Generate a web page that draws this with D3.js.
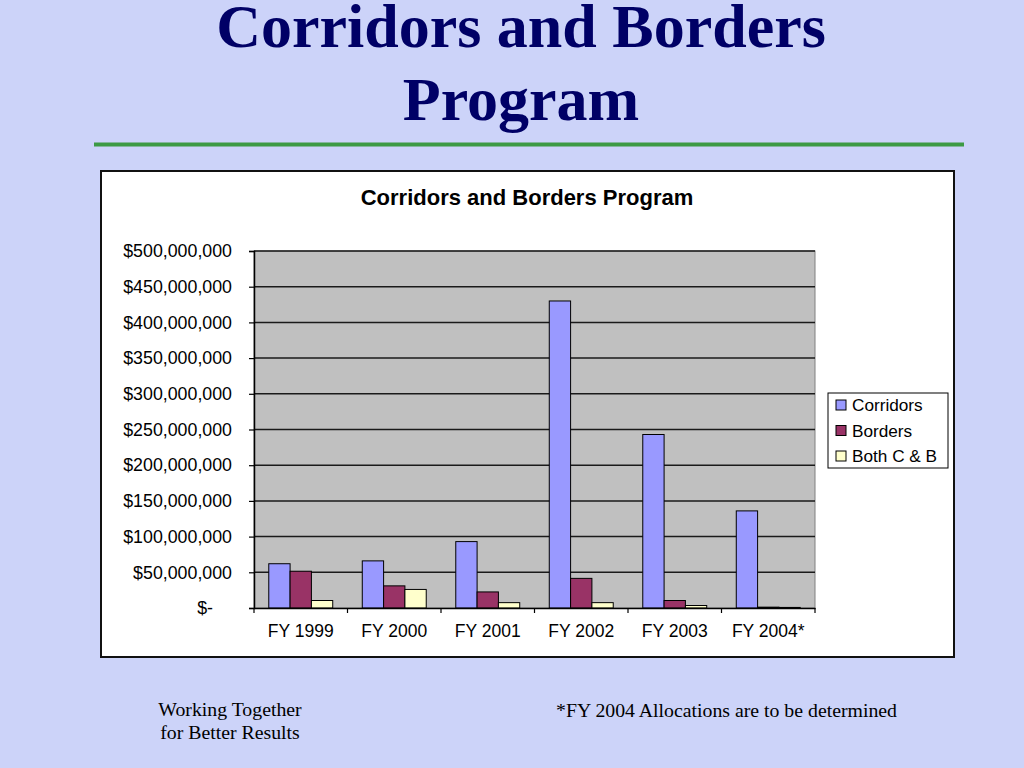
<!DOCTYPE html>
<html>
<head>
<meta charset="utf-8">
<script src="https://cdn.jsdelivr.net/npm/d3@7"></script>
<style>
  html, body { margin: 0; padding: 0; background: #CCD3F9; }
  svg { display: block; }
</style>
</head>
<body>
<svg id="slide" width="1024" height="768"></svg>
<script>
// ---- data ----
const categories = ["FY 1999", "FY 2000", "FY 2001", "FY 2002", "FY 2003", "FY 2004*"];
const seriesNames = ["Corridors", "Borders", "Both C & B"];
const corridors = [62000000, 66000000, 93000000, 430000000, 243000000, 136000000];
const borders = [51500000, 31000000, 22500000, 41500000, 10500000, 1200000];
const bothCB = [10500000, 26000000, 7500000, 7500000, 3500000, 800000];
const yTickValues = [0, 50000000, 100000000, 150000000, 200000000, 250000000, 300000000, 350000000, 400000000, 450000000, 500000000];
const seriesColors = ["#9999FF", "#993366", "#FFFFCC"];
const slideTitle = ["Corridors and Borders", "Program"];
const chartTitle = "Corridors and Borders Program";
const footerLeft = ["Working Together", "for Better Results"];
const footerRight = "*FY 2004 Allocations are to be determined";

const seriesValues = [corridors, borders, bothCB];

const svg = d3.select("#slide");

// background
svg.append("rect").attr("x", 0).attr("y", 0).attr("width", 1024).attr("height", 768).attr("fill", "#CCD3F9");

// slide title
const t = svg.append("text")
  .attr("text-anchor", "middle")
  .attr("font-family", "'Liberation Serif', 'Times New Roman', serif")
  .attr("font-weight", "bold")
  .attr("font-size", 62)
  .attr("fill", "#000066");
slideTitle.forEach((line, i) => {
  t.append("tspan").attr("x", 521).attr("y", 47 + i * 73).text(line);
});

// green rule
svg.append("rect").attr("x", 94).attr("y", 142.5).attr("width", 870).attr("height", 4).attr("fill", "#3C9A44");

// chart box
svg.append("rect").attr("x", 101).attr("y", 171).attr("width", 853).attr("height", 486)
  .attr("fill", "#FFFFFF").attr("stroke", "#111111").attr("stroke-width", 2);

// chart title
svg.append("text")
  .attr("x", 527).attr("y", 205)
  .attr("text-anchor", "middle")
  .attr("font-family", "'Liberation Sans', Arial, sans-serif")
  .attr("font-weight", "bold")
  .attr("font-size", 22)
  .attr("fill", "#000")
  .text(chartTitle);

// plot geometry
const plot = { left: 254, right: 815, top: 251, bottom: 608 };

const y = d3.scaleLinear().domain([0, 500000000]).range([plot.bottom, plot.top]);
const x = d3.scaleBand().domain(categories).range([plot.left, plot.right]).paddingInner(0).paddingOuter(0);
const groupW = x.bandwidth() * 0.684;
const xs = d3.scaleBand().domain(seriesNames).range([0, groupW]).padding(0);

// plot area
svg.append("rect")
  .attr("x", plot.left).attr("y", plot.top)
  .attr("width", plot.right - plot.left).attr("height", plot.bottom - plot.top)
  .attr("fill", "#C0C0C0").attr("stroke", "#808080").attr("stroke-width", 1);

// gridlines
svg.append("g").selectAll("line")
  .data(yTickValues.filter(v => v > 0))
  .join("line")
  .attr("x1", plot.left).attr("x2", plot.right)
  .attr("y1", d => y(d)).attr("y2", d => y(d))
  .attr("stroke", "#1a1a1a").attr("stroke-width", 1.5);

// bars
const rows = categories.map((c, i) => ({ cat: c, vals: seriesNames.map((s, j) => ({ s, j, v: seriesValues[j][i] })) }));
const groups = svg.append("g").selectAll("g")
  .data(rows)
  .join("g")
  .attr("transform", d => `translate(${x(d.cat) + (x.bandwidth() - groupW) / 2},0)`);
groups.selectAll("rect")
  .data(d => d.vals)
  .join("rect")
  .attr("x", d => xs(d.s))
  .attr("width", xs.bandwidth())
  .attr("y", d => y(d.v))
  .attr("height", d => y(0) - y(d.v))
  .attr("fill", d => seriesColors[d.j])
  .attr("stroke", "#000").attr("stroke-width", 1);

// y axis
const fmt = d3.format(",");
const yAxis = d3.axisLeft(y)
  .tickValues(yTickValues)
  .tickSize(5)
  .tickPadding(17)
  .tickFormat(d => d === 0 ? "$-" : "$" + fmt(d));
const yg = svg.append("g").attr("transform", `translate(${plot.left},0)`).call(yAxis);
yg.select(".domain").attr("stroke", "#000").attr("stroke-width", 1.5);
yg.selectAll(".tick line").attr("stroke", "#000").attr("stroke-width", 1.2);
yg.selectAll("text")
  .attr("font-family", "'Liberation Sans', Arial, sans-serif")
  .attr("font-size", 17.8)
  .attr("fill", "#000");
yg.selectAll(".tick").filter(d => d === 0).select("text").attr("x", -41);

// x axis: labels
const xAxis = d3.axisBottom(x).tickSize(0).tickPadding(17);
const xg = svg.append("g").attr("transform", `translate(0,${plot.bottom})`).call(xAxis);
xg.select(".domain").attr("stroke", "#000").attr("stroke-width", 1.5);
xg.selectAll("text")
  .attr("font-family", "'Liberation Sans', Arial, sans-serif")
  .attr("font-size", 17.5)
  .attr("fill", "#000");

// x axis: boundary tick marks
const bounds = categories.map(c => x(c)).concat([plot.right]);
svg.append("g").selectAll("line")
  .data(bounds)
  .join("line")
  .attr("x1", d => d).attr("x2", d => d)
  .attr("y1", plot.bottom).attr("y2", plot.bottom + 5)
  .attr("stroke", "#000").attr("stroke-width", 1.2);

// legend
const lg = svg.append("g");
lg.append("rect").attr("x", 828).attr("y", 393).attr("width", 120).attr("height", 75)
  .attr("fill", "#FFFFFF").attr("stroke", "#000").attr("stroke-width", 1);
const items = lg.selectAll("g.item")
  .data(seriesNames)
  .join("g")
  .attr("class", "item")
  .attr("transform", (d, i) => `translate(836,${405 + i * 25.5})`);
items.append("rect")
  .attr("x", 0).attr("y", -5).attr("width", 10).attr("height", 10)
  .attr("fill", (d, i) => seriesColors[i]).attr("stroke", "#000").attr("stroke-width", 1);
items.append("text")
  .attr("x", 16).attr("y", 6)
  .attr("font-family", "'Liberation Sans', Arial, sans-serif")
  .attr("font-size", 17.2)
  .attr("fill", "#000")
  .text(d => d);

// footer
const fl = svg.append("text")
  .attr("text-anchor", "middle")
  .attr("font-family", "'Liberation Serif', 'Times New Roman', serif")
  .attr("font-size", 19.8)
  .attr("fill", "#000");
footerLeft.forEach((line, i) => {
  fl.append("tspan").attr("x", 230).attr("y", 716 + i * 23).text(line);
});
svg.append("text")
  .attr("x", 556).attr("y", 717)
  .attr("font-family", "'Liberation Serif', 'Times New Roman', serif")
  .attr("font-size", 19.8)
  .attr("fill", "#000")
  .text(footerRight);
</script>
</body>
</html>
